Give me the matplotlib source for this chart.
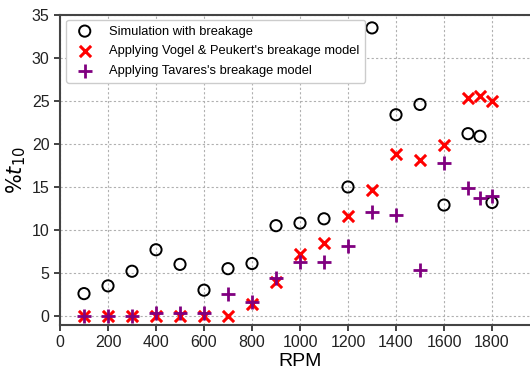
import matplotlib
matplotlib.use("Agg")
import matplotlib.pyplot as plt

rpm = [100, 200, 300, 400, 500, 600, 700, 800, 900, 1000, 1100, 1200,
       1300, 1400, 1500, 1600, 1700, 1750, 1800]
sim = [2.6, 3.5, 5.2, 7.7, 6.0, 3.0, 5.5, 6.1, 10.5, 10.8, 11.3, 15.0,
       33.5, 23.4, 24.6, 12.9, 21.2, 20.9, 13.2]
vogel = [0.0, 0.0, 0.0, 0.0, 0.0, 0.0, 0.0, 1.4, 3.9, 7.2, 8.5, 11.6,
         14.7, 18.8, 18.1, 19.9, 25.3, 25.6, 25.0]
tavares = [0.0, 0.0, 0.0, 0.35, 0.3, 0.3, 2.6, 1.6, 4.4, 6.3, 6.3, 8.1,
           12.1, 11.7, 5.3, 17.8, 14.9, 13.7, 13.9]
xticks = [0, 200, 400, 600, 800, 1000, 1200, 1400, 1600, 1800]
yticks = [0, 5, 10, 15, 20, 25, 30, 35]

plt.rcParams['font.family'] = ['Liberation Sans', 'DejaVu Sans']
fig = plt.figure(figsize=(5.3, 3.72), dpi=100)
ax = fig.add_axes([60/530, 47/372, 480/530, 310/372])

ax.scatter(rpm, sim, s=65, facecolors='none', edgecolors='black',
           linewidths=1.4, label='Simulation with breakage', zorder=3)
ax.scatter(rpm, vogel, s=65, marker='x', color='red', linewidths=2.2,
           label="Applying Vogel & Peukert's breakage model", zorder=3)
ax.scatter(rpm, tavares, s=100, marker='+', color='purple', linewidths=2.0,
           label="Applying Tavares's breakage model", zorder=3)

ax.set_xlim(0, 2000)
ax.set_ylim(-1.05, 35)
ax.set_xticks(xticks)
ax.set_yticks(yticks)
ax.tick_params(labelsize=11.5, length=4, width=1.2, colors='#222222')
ax.grid(True, linestyle=(0, (2, 2)), color='#b0b0b0', linewidth=0.8)
ax.set_axisbelow(True)
for side in ['left', 'bottom', 'top']:
    ax.spines[side].set_linewidth(1.5)
    ax.spines[side].set_color('#444444')
ax.spines['right'].set_visible(False)

ax.set_xlabel('RPM', fontsize=14, labelpad=2)
ax.set_ylabel(r'$\mathit{\%t}_{10}$', fontsize=15, labelpad=3)

ax.legend(loc='upper left', fontsize=9.3, frameon=True, framealpha=1,
          edgecolor='#cccccc', borderpad=0.45, handletextpad=0.9,
          labelspacing=0.6, borderaxespad=0,
          bbox_to_anchor=(0.0125, 0.985))

fig.savefig('out.png', dpi=100)
